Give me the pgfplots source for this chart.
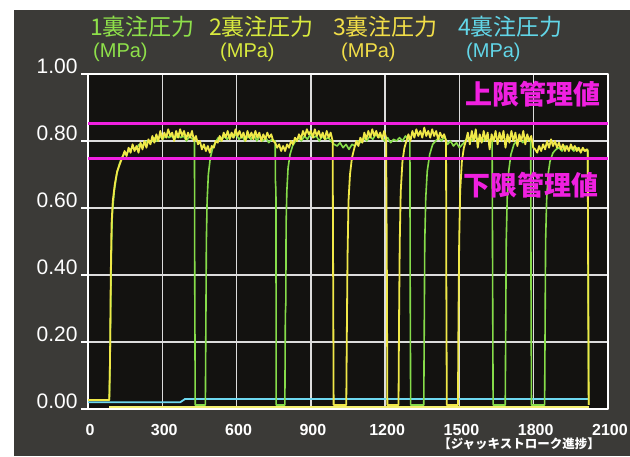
\documentclass[border=0pt]{standalone}
\usepackage{pgfplots}
\pgfplotsset{compat=1.18}
\usepackage{fontspec}
\setmainfont{Liberation Sans}
\newfontfamily\cjk{Noto Sans CJK JP}
\definecolor{bgray}{HTML}{3B3A37}
\definecolor{plotbg}{HTML}{131210}
\definecolor{gridc}{HTML}{DCDCDC}
\definecolor{cA}{HTML}{8EE04A}
\definecolor{cB}{HTML}{D8EA3E}
\definecolor{cC}{HTML}{F2DE48}
\definecolor{cD}{HTML}{62D6E8}
\definecolor{trG}{HTML}{86DC4A}
\definecolor{trY}{HTML}{F0E848}
\definecolor{trZ}{HTML}{F4F070}
\definecolor{trC}{HTML}{6ED8F0}
\definecolor{mag}{HTML}{F020E0}
\begin{document}
\begin{tikzpicture}[x=1pt,y=1pt]
\path[use as bounding box] (0,0) rectangle (630,456);
\fill[white] (0,0) rectangle (630,456);
\fill[bgray] (14,0) rectangle (630,446);
\begin{axis}[
  at={(88pt,47pt)}, anchor=south west,
  width=520pt, height=335pt, scale only axis,
  xmin=0, xmax=2100, ymin=0, ymax=1,
  axis background/.style={fill=plotbg},
  xtick={0,300,600,900,1200,1500,1800,2100},
  ytick={0,0.2,0.4,0.6,0.8,1},
  grid=major, major grid style={gridc, line width=1.4pt},
  axis line style={white, line width=1.6pt},
  tick style={white, line width=1.2pt},
  xtick style={draw=none},
  tick pos=left, tick align=outside, major tick length=7pt,
  /pgf/number format/assume math mode=true,
  xticklabel style={font=\bfseries\fontsize{16}{16}\selectfont, text=white, xshift=2pt, yshift=-5pt,
    /pgf/number format/.cd, fixed, 1000 sep={}},
  yticklabel style={font=\fontsize{21}{21}\selectfont, text=white, yshift=8pt,
    /pgf/number format/.cd, fixed, fixed zerofill, precision=2},
  no markers, line join=round,
]
% series 4 (cyan), near zero
\addplot[trC, line width=1.8pt] coordinates {(0,0.02) (372,0.02) (392,0.03) (2020,0.03)};
% series 2, at zero
\addplot[trZ, line width=1.8pt] coordinates {(86,0.006) (2022,0.006)};
% series 1 (green)
\addplot[trG, line width=1.6pt] coordinates {
(0,0.027) (86,0.027) (90,0.2) (94,0.45) (98,0.58) (106,0.65) (116,0.70) (126,0.73) (136,0.75)
(146,0.76) (158,0.765) (170,0.775) (182,0.78) (194,0.775) (206,0.79) (218,0.785) (230,0.795) (242,0.80) (254,0.795) (266,0.81) (278,0.80) (290,0.815) (302,0.805) (314,0.82) (326,0.81) (338,0.815) (350,0.805) (362,0.82) (374,0.81) (386,0.815) (398,0.80) (410,0.815) (422,0.805) (430,0.81)
(431,0.40) (433,0.012) (474,0.012)
(476,0.25) (478,0.50) (481,0.62) (486,0.70) (494,0.75) (504,0.78) (514,0.795)
(526,0.81) (538,0.80) (550,0.815) (562,0.805) (574,0.82) (586,0.81) (598,0.82) (610,0.805) (622,0.815) (634,0.80) (646,0.815) (658,0.805) (670,0.82) (682,0.80) (694,0.815) (706,0.80) (718,0.81) (730,0.795) (742,0.805) (754,0.80)
(756,0.80) (757,0.68) (759,0.65) (760,0.012) (795,0.012)
(797,0.28) (799,0.32) (800,0.55) (803,0.65) (808,0.72) (816,0.76) (826,0.785) (838,0.80)
(850,0.81) (862,0.80) (874,0.815) (886,0.805) (898,0.82) (910,0.81) (922,0.815) (934,0.80) (946,0.815) (958,0.805) (970,0.81) (982,0.80) (994,0.79) (1006,0.785) (1018,0.795) (1030,0.78) (1042,0.79) (1054,0.775) (1066,0.79) (1078,0.785) (1090,0.80) (1102,0.795) (1114,0.81) (1126,0.80) (1138,0.815) (1150,0.805) (1162,0.82) (1174,0.81) (1186,0.815) (1198,0.80) (1210,0.81) (1222,0.795) (1234,0.805) (1246,0.80) (1258,0.81) (1270,0.80) (1282,0.815) (1294,0.805) (1300,0.81)
(1301,0.40) (1303,0.012) (1356,0.012)
(1358,0.25) (1360,0.50) (1364,0.63) (1370,0.71) (1380,0.76) (1392,0.79) (1404,0.80)
(1416,0.81) (1428,0.80) (1440,0.815) (1452,0.79) (1464,0.80) (1476,0.785) (1488,0.795) (1500,0.78) (1512,0.79) (1524,0.80) (1536,0.81) (1548,0.80) (1560,0.815) (1572,0.805) (1584,0.81) (1596,0.80) (1608,0.815) (1620,0.80) (1632,0.81)
(1634,0.40) (1636,0.012) (1685,0.012)
(1687,0.25) (1689,0.50) (1693,0.63) (1699,0.71) (1708,0.76) (1720,0.79) (1732,0.80)
(1744,0.805) (1756,0.795) (1768,0.81) (1780,0.80) (1788,0.805)
(1789,0.40) (1791,0.012) (1844,0.012)
(1846,0.25) (1848,0.50) (1852,0.62) (1858,0.70) (1866,0.74) (1878,0.765) (1890,0.775)
(1902,0.78) (1914,0.77) (1926,0.785) (1938,0.775) (1950,0.78) (1962,0.77) (1974,0.78) (1986,0.77) (1998,0.775) (2010,0.77) (2018,0.775)
(2020,0.40) (2022,0.012)
};
% series 3 (yellow)
\addplot[trY, line width=1.8pt] coordinates {
(0,0.027) (86,0.027) (89,0.15) (92,0.40) (95,0.55) (100,0.62) (108,0.67) (118,0.71) (128,0.73) (138,0.75)
(148,0.77) (156,0.755) (164,0.78) (172,0.765) (180,0.79) (188,0.77) (196,0.785) (204,0.765) (212,0.795) (220,0.775) (228,0.80) (236,0.78)
(244,0.805) (252,0.79) (260,0.815) (268,0.795) (276,0.82) (284,0.80) (292,0.83) (300,0.805) (308,0.825) (316,0.81) (324,0.835) (332,0.815) (340,0.825) (348,0.80) (356,0.83) (364,0.81) (372,0.835) (380,0.815) (388,0.83) (396,0.805) (404,0.825) (412,0.81) (420,0.83) (428,0.80)
(436,0.815) (444,0.79) (452,0.80) (460,0.775) (468,0.79) (476,0.77) (484,0.785) (492,0.765) (500,0.785) (508,0.78) (516,0.80) (524,0.795)
(532,0.815) (540,0.80) (548,0.825) (556,0.81) (564,0.83) (572,0.805) (580,0.825) (588,0.81) (596,0.835) (604,0.815) (612,0.83) (620,0.81) (628,0.825) (636,0.80) (644,0.83) (652,0.81) (660,0.825) (668,0.805) (676,0.83) (684,0.81) (692,0.825) (700,0.80) (708,0.82) (716,0.805) (724,0.825) (732,0.81) (740,0.82) (748,0.80)
(756,0.795) (764,0.78) (772,0.79) (780,0.77) (788,0.785) (796,0.77) (804,0.79) (812,0.78) (820,0.80) (828,0.79) (836,0.81) (844,0.80)
(852,0.82) (860,0.805) (868,0.83) (876,0.815) (884,0.835) (892,0.82) (900,0.83) (908,0.81) (916,0.835) (924,0.815) (932,0.83) (940,0.81) (948,0.825) (956,0.805) (964,0.83) (972,0.81) (980,0.825) (988,0.80)
(990,0.40) (992,0.012) (1043,0.012)
(1045,0.20) (1048,0.45) (1052,0.62) (1058,0.70) (1066,0.75) (1076,0.78)
(1084,0.80) (1092,0.785) (1100,0.81) (1108,0.795) (1116,0.825) (1124,0.805) (1132,0.83) (1140,0.81) (1148,0.835) (1156,0.815) (1164,0.83) (1172,0.81) (1180,0.825) (1188,0.805) (1196,0.83) (1204,0.81)
(1207,0.40) (1209,0.012) (1254,0.012)
(1256,0.25) (1259,0.50) (1263,0.65) (1270,0.74) (1278,0.78) (1286,0.80)
(1294,0.82) (1302,0.80) (1310,0.83) (1318,0.81) (1326,0.835) (1334,0.815) (1342,0.83) (1350,0.81) (1358,0.84) (1366,0.815) (1374,0.83) (1382,0.81) (1390,0.835) (1398,0.815) (1406,0.83) (1414,0.805) (1422,0.825) (1430,0.81) (1438,0.82) (1446,0.80)
(1447,0.40) (1449,0.012) (1494,0.012)
(1496,0.25) (1499,0.50) (1503,0.65) (1510,0.74) (1518,0.78) (1526,0.80)
(1534,0.825) (1542,0.79) (1550,0.83) (1558,0.80) (1566,0.835) (1574,0.78) (1582,0.82) (1590,0.795) (1598,0.83) (1606,0.80) (1614,0.825) (1622,0.775) (1630,0.82) (1638,0.80) (1646,0.83) (1654,0.79) (1662,0.825) (1670,0.80) (1678,0.83) (1686,0.78) (1694,0.82) (1702,0.795) (1710,0.83) (1718,0.80) (1726,0.825) (1734,0.785) (1742,0.82) (1750,0.80) (1758,0.83) (1766,0.79) (1774,0.82) (1782,0.80) (1790,0.815) (1798,0.78)
(1806,0.775) (1814,0.765) (1822,0.785) (1830,0.77) (1838,0.79) (1846,0.775) (1854,0.80) (1862,0.78) (1870,0.805) (1878,0.785) (1886,0.80) (1894,0.78) (1902,0.795) (1910,0.775) (1918,0.79) (1926,0.77) (1934,0.785) (1942,0.77) (1950,0.79) (1958,0.775) (1966,0.785) (1974,0.77) (1982,0.78) (1990,0.765) (1998,0.78) (2006,0.77) (2014,0.775) (2018,0.77)
(2020,0.40) (2022,0.012)
};
% control limits
\addplot[mag, line width=3.5pt] coordinates {(0,0.852) (2100,0.852)};
\addplot[mag, line width=3.5pt] coordinates {(0,0.748) (2100,0.748)};
\node[text=mag, font=\cjk\bfseries\fontsize{27}{27}\selectfont, inner sep=0] at (axis cs:1797,0.94) {上限管理値};
\node[text=mag, font=\cjk\bfseries\fontsize{27}{27}\selectfont, inner sep=0] at (axis cs:1790,0.669) {下限管理値};
\end{axis}
% series titles
\node[anchor=west, text=cA, font=\cjk\fontsize{23}{23}\selectfont, inner sep=0] at (90,429) {1裏注圧力};
\node[anchor=west, text=cA, font=\fontsize{20}{20}\selectfont, inner sep=0] at (93,404) {(MPa)};
\node[anchor=west, text=cB, font=\cjk\fontsize{23}{23}\selectfont, inner sep=0] at (209,429) {2裏注圧力};
\node[anchor=west, text=cB, font=\fontsize{20}{20}\selectfont, inner sep=0] at (220,404) {(MPa)};
\node[anchor=west, text=cC, font=\cjk\fontsize{23}{23}\selectfont, inner sep=0] at (333,429) {3裏注圧力};
\node[anchor=west, text=cC, font=\fontsize{20}{20}\selectfont, inner sep=0] at (341,404) {(MPa)};
\node[anchor=west, text=cD, font=\cjk\fontsize{23}{23}\selectfont, inner sep=0] at (458,429) {4裏注圧力};
\node[anchor=west, text=cD, font=\fontsize{20}{20}\selectfont, inner sep=0] at (466,404) {(MPa)};
\node[text=white, font=\cjk\bfseries\fontsize{12.5}{12.5}\selectfont, inner sep=0] at (519,12) {【ジャッキストローク進捗】};
\end{tikzpicture}
\end{document}
